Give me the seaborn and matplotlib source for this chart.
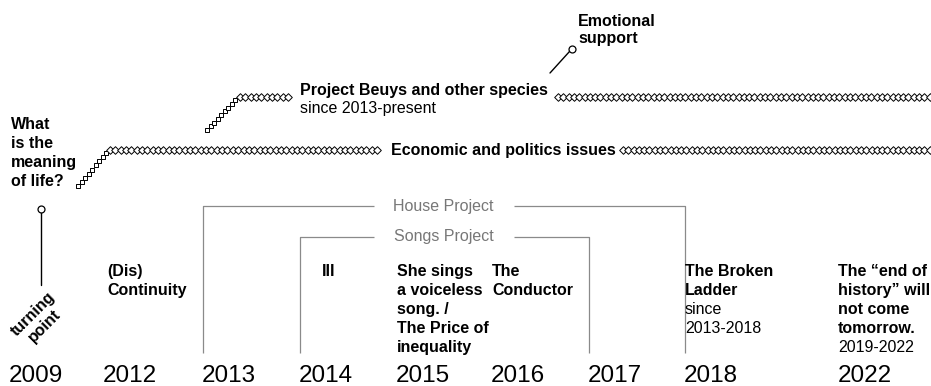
import numpy as np
import pandas as pd
import seaborn as sns
import matplotlib.pyplot as plt

# --- data -------------------------------------------------------------------
years = ["2009", "2012", "2013", "2014", "2015", "2016", "2017", "2018", "2022"]

work_years = ["2012", "2014", "2015", "2016", "2018", "2022"]
work_titles = [
    "(Dis)\nContinuity",
    "III",
    "She sings\na voiceless\nsong. /\nThe Price of\ninequality",
    "The\nConductor",
    "The Broken\nLadder",
    "The \u201cend of\nhistory\u201d will\nnot come\ntomorrow.",
]
work_notes = ["", "", "", "", "since\n2013-2018", "2019-2022"]

project_names = ["House Project", "Songs Project"]
project_start = ["2013", "2014"]
project_end = ["2018", "2017"]

thread_names = ["Economic and politics issues", "Project Beuys and other species"]
thread_notes = ["", "since 2013-present"]

question = "What\nis the\nmeaning\nof life?"
turning = "turning\npoint"
support = "Emotional\nsupport"

# --- layout (pixels, y grows downwards) --------------------------------------
year_x = [9, 103, 202, 299, 396, 491, 588, 684, 838]
col = dict(zip(years, [11, 104, 203, 300, 397, 492, 589, 685, 839]))
work_x = [107, 322, 397, 492, 685, 838]
year_base = 382
row_base = 276
step = 19
project_y = [206, 237]
label_mid = 443.5
label_gap = 70
line_bottom = 353

# thread pieces: (x0, y0, x1, y1, marker)
econ_beads = [(78, 186, 106, 153, "s"), (110, 150, 377, 150, "D"), (623, 150, 935, 150, "D")]
beuys_beads = [(207, 130, 235, 100, "s"), (240, 96.5, 288, 96.5, "D"), (558, 96.5, 935, 96.5, "D")]
thread_label = [(391, 155), (300, 95)]

sns.set_theme(style="white")
plt.rcParams["font.family"] = ["Liberation Sans", "DejaVu Sans"]
plt.rcParams["text.color"] = "black"

fig = plt.figure(figsize=(9.31, 3.86), dpi=100)
ax = fig.add_axes([0, 0, 1, 1])
ax.set_xlim(0, 931)
ax.set_ylim(386, 0)
ax.axis("off")

FS = 11.5
GRAY = "#8a8a8a"


def block(x, y0, text, **kw):
    n = 0
    for i, line in enumerate(text.split("\n")):
        ax.text(x, y0 + i * step, line, va="baseline", ha="left", fontsize=FS, **kw)
        n += 1
    return n


def beads(x0, y0, x1, y1, marker):
    n = int(round(np.hypot(x1 - x0, y1 - y0) / 5.3)) + 1
    df = pd.DataFrame({"x": np.linspace(x0, x1, n), "y": np.linspace(y0, y1, n)})
    size = 15 if marker == "D" else 12
    sns.scatterplot(data=df, x="x", y="y", marker=marker, s=size, facecolor="white",
                    edgecolor="black", linewidth=0.7, ax=ax, zorder=3, legend=False)


# years along the bottom
for y, x in zip(years, year_x):
    ax.text(x, year_base, y, fontsize=17.5, va="baseline", ha="left", color="black")

# works with their notes
for yr, x, title, note in zip(work_years, work_x, work_titles, work_notes):
    n = block(x, row_base, title, fontweight="bold", color="black")
    if note:
        block(x, row_base + n * step, note, color="black")

# project brackets
for name, a, b, yy in zip(project_names, project_start, project_end, project_y):
    xa, xb = col[a], col[b]
    kw = dict(color=GRAY, lw=0.9, solid_capstyle="butt")
    ax.plot([xa, xa, label_mid - label_gap], [line_bottom, yy, yy], **kw)
    ax.plot([label_mid + label_gap, xb, xb], [yy, yy, line_bottom], **kw)
    ax.text(label_mid, yy, name, fontsize=FS, color="#777777", ha="center", va="center")

# threads
for piece in econ_beads + beuys_beads:
    beads(*piece)
for name, note, (x, yb) in zip(thread_names, thread_notes, thread_label):
    ax.text(x, yb, name, fontsize=FS, fontweight="bold", va="baseline", color="black")
    if note:
        ax.text(x, yb + 18, note, fontsize=FS, va="baseline", color="black")

# question at the start
block(11, 129, question, fontweight="bold", color="black")

# turning point pin
ax.plot([40.5, 40.5], [212, 285], color="black", lw=1)
ax.plot([40.5], [209], marker="o", ms=5, mfc="white", mec="black", mew=0.9)
ax.text(39, 320, turning, rotation=45, ha="center", va="center", fontsize=11.5,
        fontweight="bold", multialignment="center", linespacing=1.05, color="black")

# emotional support pin
ax.plot([550, 569.5], [73, 51.5], color="black", lw=1)
ax.plot([572], [49], marker="o", ms=5, mfc="white", mec="black", mew=0.9)
ax.text(578, 25.5, "Emotional", fontsize=FS, fontweight="bold", va="baseline", color="black")
ax.text(578, 43.5, "support", fontsize=FS, fontweight="bold", va="baseline", color="black")

fig.savefig("out.png", dpi=100)
